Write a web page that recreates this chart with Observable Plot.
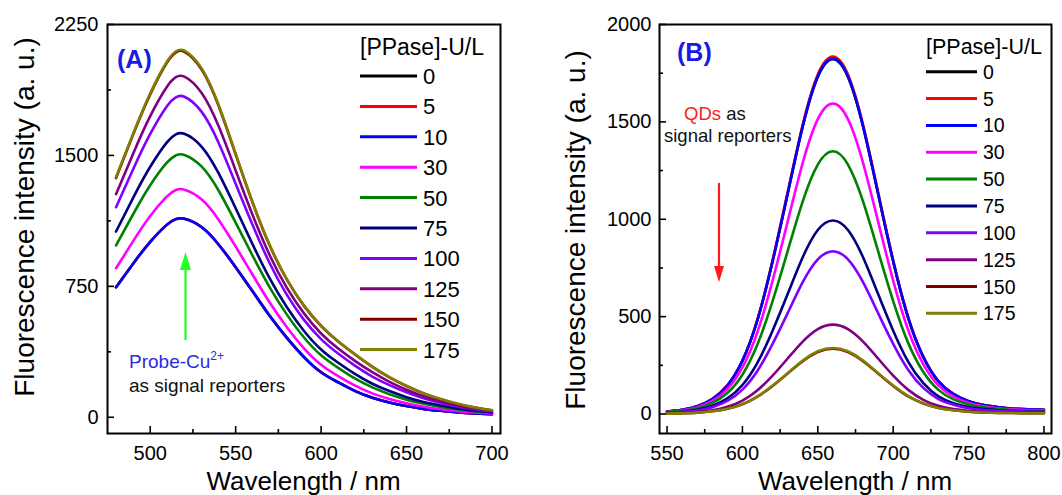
<!DOCTYPE html>
<html>
<head>
<meta charset="utf-8">
<script src="https://cdn.jsdelivr.net/npm/d3@7"></script>
<script src="https://cdn.jsdelivr.net/npm/@observablehq/plot@0.6"></script>
<style>
  html, body { margin: 0; padding: 0; background: #ffffff; }
  #wrap { position: relative; width: 1062px; height: 495px; overflow: hidden; background: #ffffff; }
  #wrap > svg { position: absolute; top: 0; }
</style>
</head>
<body>
<div id="wrap"></div>
<script>
// ---------------- data ----------------
const concentrations = ["0", "5", "10", "30", "50", "75", "100", "125", "150", "175"];
const palette = ["#000000", "#ff0000", "#0000ff", "#ff00ff", "#008000", "#000080", "#8000ff", "#800080", "#800000", "#808000"];

// Panel A (Probe-Cu2+ signal)
const wavelengthsA = [480, 490, 500, 510, 515, 520, 530, 540, 550, 560, 570, 580, 590, 600, 610, 620, 630, 640, 650, 660, 670, 680, 690, 700];
const seriesA_0   = [745, 880, 1005, 1105, 1135, 1137, 1090, 990, 860, 720, 580, 455, 345, 258, 200, 150, 112, 85, 64, 48, 37, 28, 22, 18];
const seriesA_5   = [745, 880, 1005, 1105, 1135, 1137, 1090, 990, 860, 720, 580, 455, 345, 258, 200, 150, 112, 85, 64, 48, 37, 28, 22, 18];
const seriesA_10  = [745, 880, 1005, 1105, 1135, 1137, 1090, 990, 860, 720, 580, 455, 345, 258, 200, 150, 112, 85, 64, 48, 37, 28, 22, 18];
const seriesA_30  = [854, 1009, 1153, 1267, 1302, 1304, 1249, 1132, 978, 815, 656, 516, 395, 301, 236, 181, 137, 105, 80, 60, 46, 35, 27, 21];
const seriesA_50  = [985, 1163, 1329, 1461, 1500, 1503, 1437, 1299, 1115, 924, 743, 588, 457, 355, 283, 221, 171, 132, 101, 77, 59, 44, 33, 26];
const seriesA_75  = [1064, 1257, 1435, 1578, 1621, 1624, 1551, 1398, 1197, 989, 794, 630, 494, 388, 312, 247, 192, 150, 115, 88, 67, 50, 37, 28];
const seriesA_100 = [1203, 1421, 1623, 1785, 1833, 1836, 1751, 1573, 1338, 1100, 881, 701, 558, 448, 365, 294, 233, 184, 143, 109, 82, 61, 45, 33];
const seriesA_125 = [1278, 1510, 1725, 1896, 1948, 1951, 1859, 1668, 1414, 1157, 927, 741, 595, 480, 394, 322, 258, 203, 158, 121, 92, 68, 50, 36];
const seriesA_150 = [1370, 1620, 1850, 2035, 2090, 2094, 1994, 1785, 1506, 1227, 982, 788, 638, 523, 434, 359, 289, 229, 179, 137, 103, 76, 56, 40];
const seriesA_175 = [1376, 1625, 1856, 2041, 2096, 2100, 2000, 1790, 1510, 1230, 985, 790, 640, 525, 435, 360, 290, 230, 180, 138, 104, 77, 56, 40];

// Panel B (QDs signal)
const wavelengthsB = [550, 560, 570, 580, 590, 600, 610, 620, 630, 640, 650, 660, 670, 680, 690, 700, 710, 720, 730, 740, 750, 760, 770, 780, 790, 800];
const seriesB_0   = [13, 22, 40, 77, 146, 273, 483, 783, 1130, 1476, 1731, 1822, 1731, 1476, 1130, 783, 492, 292, 168, 102, 66, 46, 35, 27, 24, 22];
const seriesB_5   = [13, 22, 40, 77, 147, 275, 486, 789, 1138, 1486, 1743, 1835, 1743, 1486, 1138, 789, 495, 294, 169, 103, 66, 46, 35, 28, 24, 22];
const seriesB_10  = [13, 22, 40, 77, 146, 274, 484, 785, 1132, 1478, 1734, 1825, 1734, 1478, 1132, 785, 493, 292, 168, 102, 66, 46, 35, 27, 24, 22];
const seriesB_30  = [11, 19, 35, 67, 128, 239, 422, 685, 988, 1290, 1514, 1594, 1514, 1290, 988, 685, 430, 255, 147, 89, 57, 40, 30, 24, 21, 19];
const seriesB_50  = [10, 16, 30, 57, 108, 202, 358, 580, 836, 1092, 1281, 1349, 1281, 1092, 836, 580, 364, 216, 124, 75, 49, 34, 26, 20, 18, 16];
const seriesB_75  = [7, 12, 22, 42, 80, 149, 264, 428, 616, 805, 945, 994, 945, 805, 616, 428, 268, 159, 91, 56, 36, 25, 19, 15, 13, 12];
const seriesB_100 = [6, 10, 18, 35, 67, 125, 222, 360, 518, 677, 794, 836, 794, 677, 518, 360, 226, 134, 77, 47, 30, 21, 16, 13, 11, 10];
const seriesB_125 = [3, 6, 10, 19, 37, 69, 122, 197, 285, 372, 436, 459, 436, 372, 285, 197, 124, 73, 42, 26, 17, 11, 9, 7, 6, 6];
const seriesB_150 = [2, 4, 7, 14, 27, 50, 89, 144, 208, 271, 318, 335, 318, 271, 208, 144, 90, 54, 31, 19, 12, 8, 6, 5, 4, 4];
const seriesB_175 = [2, 4, 7, 14, 27, 51, 90, 146, 210, 275, 322, 339, 322, 275, 210, 146, 92, 54, 31, 19, 12, 8, 6, 5, 4, 4];

// axis ticks
const xTicksA = [500, 550, 600, 650, 700];
const xMinorA = [525, 575, 625, 675];
const yTicksA = [0, 750, 1500, 2250];
const yMinorA = [375, 1125, 1875];
const xTicksB = [550, 600, 650, 700, 750, 800];
const xMinorB = [575, 625, 675, 725, 775];
const yTicksB = [0, 500, 1000, 1500, 2000];
const yMinorB = [250, 750, 1250, 1750];

const legendTitle = "[PPase]-U/L";
const yLabel = "Fluorescence intensity (a. u.)";
const xLabel = "Wavelength / nm";

// ---------------- build ----------------
const seriesA = [seriesA_0, seriesA_5, seriesA_10, seriesA_30, seriesA_50, seriesA_75, seriesA_100, seriesA_125, seriesA_150, seriesA_175];
const seriesB = [seriesB_0, seriesB_5, seriesB_10, seriesB_30, seriesB_50, seriesB_75, seriesB_100, seriesB_125, seriesB_150, seriesB_175];

const FONT = "'Liberation Sans', Arial, Helvetica, sans-serif";
const H = 495, MT = 24, MB = 62;

function makePanel(cfg) {
  const fw = cfg.width - cfg.ml - cfg.mr;
  const fh = H - MT - MB;
  const lines = cfg.series.map((vals, i) =>
    Plot.line(cfg.xs.map((w, j) => ({w, v: vals[j]})), {
      x: "w", y: "v", stroke: palette[i], strokeWidth: 2.6, curve: "natural"
    })
  );
  const svg = Plot.plot({
    width: cfg.width, height: H,
    marginLeft: cfg.ml, marginRight: cfg.mr, marginTop: MT, marginBottom: MB,
    x: {domain: cfg.xDomain},
    y: {domain: cfg.yDomain},
    style: {fontFamily: FONT, fontSize: "20px", color: "#000", background: "transparent", overflow: "visible"},
    marks: [
      ...lines,
      Plot.tickX(cfg.xMajor, {x: d => d, insetTop: fh - 7, stroke: "#000", strokeWidth: 1.6}),
      Plot.tickX(cfg.xMinor, {x: d => d, insetTop: fh - 4, stroke: "#000", strokeWidth: 1.6}),
      Plot.tickY(cfg.yMajor, {y: d => d, insetRight: fw - 7, stroke: "#000", strokeWidth: 1.6}),
      Plot.tickY(cfg.yMinor, {y: d => d, insetRight: fw - 4, stroke: "#000", strokeWidth: 1.6}),
      Plot.axisX(cfg.xMajor, {tickSize: 0, tickPadding: 12, tickFormat: d3.format("d"), label: null, fontSize: 20}),
      Plot.axisY(cfg.yMajor, {tickSize: 0, tickPadding: cfg.yPad, tickFormat: d3.format("d"), label: null, fontSize: 20}),
      Plot.frame({stroke: "#000", strokeWidth: 2})
    ]
  });
  svg.style.left = cfg.left + "px";
  const s = d3.select(svg);
  // axis titles
  s.append("text")
    .attr("x", cfg.ml + fw / 2).attr("y", 490)
    .attr("text-anchor", "middle").attr("font-size", 26).attr("font-family", FONT).attr("fill", "#000")
    .text(xLabel);
  s.append("text")
    .attr("transform", `translate(${cfg.yLabX},${cfg.yLabY}) rotate(-90)`)
    .attr("text-anchor", "middle").attr("font-size", 28).attr("font-family", FONT).attr("fill", "#000")
    .text(yLabel);
  // legend
  const L = cfg.legend;
  const g = s.append("g").attr("font-family", FONT).attr("text-anchor", "start");
  g.append("text").attr("x", L.x).attr("y", L.titleY).attr("text-anchor", "start").attr("font-size", L.titleSize).attr("fill", "#000").text(legendTitle);
  concentrations.forEach((c, i) => {
    const y = L.y0 + i * L.dy;
    g.append("line").attr("x1", L.x).attr("x2", L.x + L.len).attr("y1", y).attr("y2", y)
      .attr("stroke", palette[i]).attr("stroke-width", 3);
    g.append("text").attr("x", L.x + L.len + L.gap).attr("y", y).attr("dy", "0.36em").attr("text-anchor", "start")
      .attr("font-size", L.size).attr("fill", "#000").text(c);
  });
  return {svg, s};
}

const wrap = document.getElementById("wrap");

const A = makePanel({
  left: 0, width: 530, ml: 107, mr: 30,
  xs: wavelengthsA, series: seriesA,
  xDomain: [475, 705], yDomain: [-93, 2250],
  xMajor: xTicksA, xMinor: xMinorA, yMajor: yTicksA, yMinor: yMinorA,
  yPad: 9, yLabX: 34, yLabY: 217,
  legend: {x: 360, titleY: 55, titleSize: 23, y0: 76, dy: 30.4, len: 57, gap: 6, size: 22}
});
wrap.appendChild(A.svg);

const B = makePanel({
  left: 530, width: 532, ml: 129, mr: 11,
  xs: wavelengthsB, series: seriesB,
  xDomain: [545, 805], yDomain: [-100, 2000],
  xMajor: xTicksB, xMinor: xMinorB, yMajor: yTicksB, yMinor: yMinorB,
  yPad: 8, yLabX: 55, yLabY: 230,
  legend: {x: 396, titleY: 54, titleSize: 21.5, y0: 71.7, dy: 26.85, len: 51, gap: 6, size: 19.5}
});
wrap.appendChild(B.svg);

// ---------------- annotations ----------------
function arrow(sel, x, y1, y2, color, head, hw) {
  // y1 = tail, y2 = tip
  const dir = y2 < y1 ? 1 : -1;
  sel.append("line").attr("x1", x).attr("x2", x).attr("y1", y1).attr("y2", y2 + dir * head * 0.8)
    .attr("stroke", color).attr("stroke-width", 2.2);
  sel.append("path")
    .attr("d", `M${x},${y2} L${x - hw / 2},${y2 + dir * head} L${x + hw / 2},${y2 + dir * head} Z`)
    .attr("fill", color);
}

function label(sel, x, y, size, color, txt, bold) {
  const t = sel.append("text").attr("x", x).attr("y", y).attr("text-anchor", "start")
    .attr("font-size", size).attr("font-family", FONT).attr("fill", color);
  if (bold) t.attr("font-weight", "bold");
  if (txt != null) t.text(txt);
  return t;
}

// Panel A
label(A.s, 117, 68, 25, "#1a1ae6", "(A)", true);
arrow(A.s, 185.5, 340, 252, "#22ff22", 18, 11);
const probe = label(A.s, 129, 368, 19, "#2a2ae0", null);
probe.append("tspan").text("Probe-Cu");
probe.append("tspan").attr("dy", -8).attr("font-size", 12).text("2+");
label(A.s, 129, 392, 19, "#111", "as signal reporters");

// Panel B (local coordinates: page x - 530)
label(B.s, 147, 61, 25, "#1a1ae6", "(B)", true);
const qd = label(B.s, 154, 120, 18.5, "#111", null);
qd.append("tspan").attr("fill", "#ff2020").text("QDs");
qd.append("tspan").text(" as");
label(B.s, 134, 142, 18.5, "#111", "signal reporters");
arrow(B.s, 189, 183, 282, "#ff1a1a", 16, 10);
</script>
</body>
</html>
